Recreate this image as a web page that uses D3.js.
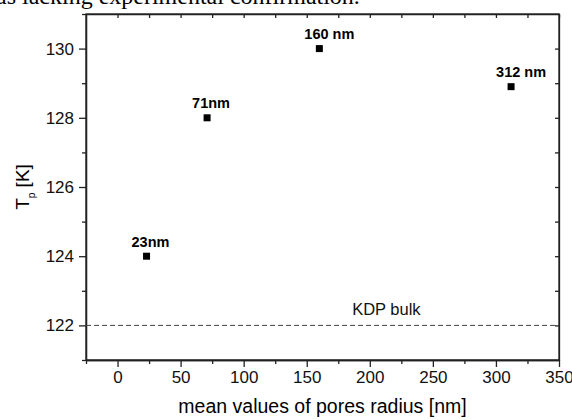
<!DOCTYPE html>
<html>
<head>
<meta charset="utf-8">
<script src="https://cdn.jsdelivr.net/npm/d3@7"></script>
<style>
  body { margin: 0; background: #fff; }
  svg { display: block; font-family: "Liberation Sans", Arial, sans-serif; }
</style>
</head>
<body>
<div id="chart"></div>
<script>
// data
const radius = [23, 71, 160, 312];          // mean pore radius [nm]
const tp = [124, 128, 130, 128.9];           // T_p [K]
const pointLabels = ["23nm", "71nm", "160 nm", "312 nm"];
const bulkTp = 122;
const bulkLabel = "KDP bulk";
const xTicks = [0, 50, 100, 150, 200, 250, 300, 350];
const yTicks = [122, 124, 126, 128, 130];

const width = 572, height = 420;
const margin = {top: 14, right: 13, bottom: 60, left: 86};
const w = width - margin.left - margin.right;
const h = height - margin.top - margin.bottom;

const svg = d3.select('#chart').append('svg')
  .attr('width', width)
  .attr('height', height);

// cut-off line of body text above the figure
svg.append('text')
  .attr('x', -4).attr('y', 3.5)
  .style('font-family', '"Liberation Serif", serif')
  .style('font-size', '24px')
  .text('as lacking experimental confirmation.');

const g = svg.append('g')
  .attr('transform', 'translate(' + margin.left + ',' + margin.top + ')');

const x = d3.scaleLinear().domain([-25, 350]).range([0, w]);
const y = d3.scaleLinear().domain([121, 131]).range([h, 0]);

const axisColor = '#222';

// bottom axis: major + minor
g.append('g')
  .attr('transform', 'translate(0,' + h + ')')
  .call(d3.axisBottom(x).tickValues(xTicks).tickSize(7).tickPadding(4).tickSizeOuter(0));
g.append('g')
  .attr('transform', 'translate(0,' + h + ')')
  .call(d3.axisBottom(x).tickValues(d3.range(-25, 351, 50)).tickSize(4).tickFormat('').tickSizeOuter(0));

// left axis
g.append('g')
  .call(d3.axisLeft(y).tickValues(yTicks).tickSize(7).tickPadding(5).tickSizeOuter(0));
g.append('g')
  .call(d3.axisLeft(y).tickValues(d3.range(121, 131.5, 2)).tickSize(4).tickFormat('').tickSizeOuter(0));

// top axis, inward ticks
g.append('g')
  .call(d3.axisTop(x).tickValues(d3.range(0, 351, 25)).tickSize(-4).tickFormat('').tickSizeOuter(0));
// right axis, inward ticks
g.append('g')
  .attr('transform', 'translate(' + w + ',0)')
  .call(d3.axisRight(y).tickValues(d3.range(122, 131, 1)).tickSize(-4).tickFormat('').tickSizeOuter(0));

g.selectAll('.domain, .tick line')
  .attr('stroke', axisColor)
  .attr('stroke-width', 1.3);
g.selectAll('.tick text')
  .attr('fill', '#111')
  .style('font-size', '17px')
  .style('font-family', '"Liberation Sans", Arial, sans-serif');

// frame
g.append('rect')
  .attr('width', w).attr('height', h)
  .attr('fill', 'none')
  .attr('stroke', axisColor)
  .attr('stroke-width', 1.3);

// bulk reference line
g.append('line')
  .attr('x1', 0).attr('x2', w)
  .attr('y1', y(bulkTp)).attr('y2', y(bulkTp))
  .attr('stroke', '#444')
  .attr('stroke-width', 1)
  .attr('stroke-dasharray', '5,3');
g.append('text')
  .attr('x', x(186)).attr('y', y(bulkTp) - 10)
  .style('font-size', '16.5px')
  .attr('fill', '#111')
  .text(bulkLabel);

// points
const pts = radius.map((r, i) => ({r: r, t: tp[i], label: pointLabels[i]}));
const ms = 7;
g.selectAll('rect.pt')
  .data(pts)
  .enter().append('rect')
  .attr('class', 'pt')
  .attr('x', d => x(d.r) - ms / 2)
  .attr('y', d => y(d.t) - ms / 2)
  .attr('width', ms).attr('height', ms)
  .attr('fill', '#000');

g.selectAll('text.pl')
  .data(pts)
  .enter().append('text')
  .attr('class', 'pl')
  .attr('x', d => x(d.r) - 15)
  .attr('y', d => y(d.t) - 9.5)
  .style('font-size', '14.5px')
  .style('font-weight', 'bold')
  .text(d => d.label);

// axis titles
svg.append('text')
  .attr('x', margin.left + w / 2)
  .attr('y', 413)
  .attr('text-anchor', 'middle')
  .style('font-size', '19.5px')
  .text('mean values of pores radius [nm]');

const yt = svg.append('text')
  .attr('transform', 'translate(29,' + (margin.top + h / 2) + ') rotate(-90)')
  .attr('text-anchor', 'middle')
  .style('font-size', '19px');
yt.append('tspan').text('T');
yt.append('tspan').attr('dy', 6).style('font-size', '10px').text('p');
yt.append('tspan').attr('dy', -6).text(' [K]');
</script>
</body>
</html>
